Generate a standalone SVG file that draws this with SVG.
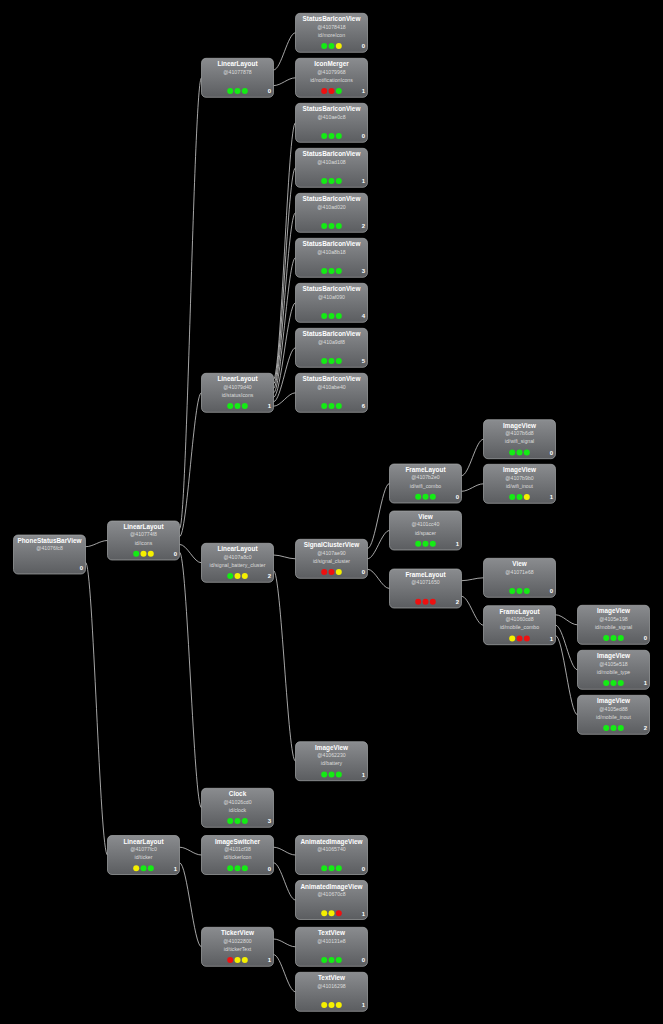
<svg xmlns="http://www.w3.org/2000/svg" width="663" height="1024" viewBox="0 0 663 1024">
<style>
.box{fill:url(#g);stroke:#a4a6a8;stroke-width:0.7}
.t{font-family:"Liberation Sans",Arial,sans-serif;font-weight:bold;font-size:6.4px;fill:#fff;text-anchor:middle}
.a{font-family:"Liberation Sans",Arial,sans-serif;font-size:5.2px;fill:#dcdcdc;text-anchor:middle}
.i{font-family:"Liberation Sans",Arial,sans-serif;font-weight:bold;font-size:6px;fill:#fff;text-anchor:end}
.G{fill:#14ec14}.Y{fill:#f5f000}.R{fill:#ee1010}
#links path{fill:none;stroke:#cfcfcf;stroke-width:0.8}
</style>
<defs>
<linearGradient id="g" x1="0" y1="0" x2="0" y2="1">
<stop offset="0" stop-color="#8a8c8f"/>
<stop offset="1" stop-color="#5b5d60"/>
</linearGradient>
</defs>
<rect width="663" height="1024" fill="#000"/>
<g id="links">
<path d="M85.5,546.7 C93.2,546.7 99.8,540.5 107.5,540.5"/>
<path d="M85.5,562.3 C93.2,562.3 99.8,855 107.5,855"/>
<path d="M179.5,528.8 C187.2,528.8 193.8,77.8 201.5,77.8"/>
<path d="M179.5,536.6 C187.2,536.6 193.8,392.8 201.5,392.8"/>
<path d="M179.5,544.4 C187.2,544.4 193.8,562.8 201.5,562.8"/>
<path d="M179.5,552.2 C187.2,552.2 193.8,807.8 201.5,807.8"/>
<path d="M179.5,847.2 C187.2,847.2 193.8,855 201.5,855"/>
<path d="M179.5,862.8 C187.2,862.8 193.8,946.8 201.5,946.8"/>
<path d="M273.5,70 C281.2,70 287.8,32.8 295.5,32.8"/>
<path d="M273.5,85.6 C281.2,85.6 287.8,77.8 295.5,77.8"/>
<path d="M273.5,379.4 C281.2,379.4 287.8,122.8 295.5,122.8"/>
<path d="M273.5,383.9 C281.2,383.9 287.8,167.8 295.5,167.8"/>
<path d="M273.5,388.3 C281.2,388.3 287.8,212.8 295.5,212.8"/>
<path d="M273.5,392.8 C281.2,392.8 287.8,257.8 295.5,257.8"/>
<path d="M273.5,397.3 C281.2,397.3 287.8,302.8 295.5,302.8"/>
<path d="M273.5,401.7 C281.2,401.7 287.8,347.8 295.5,347.8"/>
<path d="M273.5,406.2 C281.2,406.2 287.8,392.8 295.5,392.8"/>
<path d="M273.5,555 C281.2,555 287.8,558.8 295.5,558.8"/>
<path d="M273.5,570.6 C281.2,570.6 287.8,761.2 295.5,761.2"/>
<path d="M367.5,548.4 C375.2,548.4 381.8,483.5 389.5,483.5"/>
<path d="M367.5,558.8 C375.2,558.8 381.8,530.5 389.5,530.5"/>
<path d="M367.5,569.2 C375.2,569.2 381.8,588.5 389.5,588.5"/>
<path d="M461.5,475.7 C469.2,475.7 475.8,439.2 483.5,439.2"/>
<path d="M461.5,491.3 C469.2,491.3 475.8,483.8 483.5,483.8"/>
<path d="M461.5,580.7 C469.2,580.7 475.8,577.8 483.5,577.8"/>
<path d="M461.5,596.3 C469.2,596.3 475.8,625.2 483.5,625.2"/>
<path d="M555.5,614.8 C563.2,614.8 569.8,624.8 577.5,624.8"/>
<path d="M555.5,625.2 C563.2,625.2 569.8,669.8 577.5,669.8"/>
<path d="M555.5,635.6 C563.2,635.6 569.8,714.8 577.5,714.8"/>
<path d="M273.5,847.2 C281.2,847.2 287.8,855 295.5,855"/>
<path d="M273.5,862.8 C281.2,862.8 287.8,900 295.5,900"/>
<path d="M273.5,939 C281.2,939 287.8,946.8 295.5,946.8"/>
<path d="M273.5,954.6 C281.2,954.6 287.8,991.8 295.5,991.8"/>
</g>

<g id="root" transform="translate(13.5,535)"><rect class="box" width="72" height="39" rx="4.5"/><text class="t" x="36" y="8.2">PhoneStatusBarView</text><text class="a" x="36" y="15.3">@41076fc8</text><text class="i" x="69.5" y="35">0</text></g>

<g id="ll_icons" transform="translate(107.5,521)"><rect class="box" width="72" height="39" rx="4.5"/><text class="t" x="36" y="8.2">LinearLayout</text><text class="a" x="36" y="15.3">@410774f8</text><text class="a" x="36" y="23.6">id/icons</text><circle class="G" cx="28.7" cy="32.7" r="3"/><circle class="Y" cx="36" cy="32.7" r="3"/><circle class="Y" cx="43.3" cy="32.7" r="3"/><text class="i" x="69.5" y="35">0</text></g>

<g id="ll_ticker" transform="translate(107.5,835.5)"><rect class="box" width="72" height="39" rx="4.5"/><text class="t" x="36" y="8.2">LinearLayout</text><text class="a" x="36" y="15.3">@41077fc0</text><text class="a" x="36" y="23.6">id/ticker</text><circle class="Y" cx="28.7" cy="32.7" r="3"/><circle class="G" cx="36" cy="32.7" r="3"/><circle class="G" cx="43.3" cy="32.7" r="3"/><text class="i" x="69.5" y="35">1</text></g>

<g id="ll_878" transform="translate(201.5,58.3)"><rect class="box" width="72" height="39" rx="4.5"/><text class="t" x="36" y="8.2">LinearLayout</text><text class="a" x="36" y="15.3">@41077878</text><circle class="G" cx="28.7" cy="32.7" r="3"/><circle class="G" cx="36" cy="32.7" r="3"/><circle class="G" cx="43.3" cy="32.7" r="3"/><text class="i" x="69.5" y="35">0</text></g>

<g id="ll_status" transform="translate(201.5,373.3)"><rect class="box" width="72" height="39" rx="4.5"/><text class="t" x="36" y="8.2">LinearLayout</text><text class="a" x="36" y="15.3">@41079d40</text><text class="a" x="36" y="23.6">id/statusIcons</text><circle class="G" cx="28.7" cy="32.7" r="3"/><circle class="G" cx="36" cy="32.7" r="3"/><circle class="G" cx="43.3" cy="32.7" r="3"/><text class="i" x="69.5" y="35">1</text></g>

<g id="ll_sbc" transform="translate(201.5,543.3)"><rect class="box" width="72" height="39" rx="4.5"/><text class="t" x="36" y="8.2">LinearLayout</text><text class="a" x="36" y="15.3">@4107a8c0</text><text class="a" x="36" y="23.6">id/signal_battery_cluster</text><circle class="G" cx="28.7" cy="32.7" r="3"/><circle class="Y" cx="36" cy="32.7" r="3"/><circle class="Y" cx="43.3" cy="32.7" r="3"/><text class="i" x="69.5" y="35">2</text></g>

<g id="clock" transform="translate(201.5,788.3)"><rect class="box" width="72" height="39" rx="4.5"/><text class="t" x="36" y="8.2">Clock</text><text class="a" x="36" y="15.3">@41026cd0</text><text class="a" x="36" y="23.6">id/clock</text><circle class="G" cx="28.7" cy="32.7" r="3"/><circle class="G" cx="36" cy="32.7" r="3"/><circle class="G" cx="43.3" cy="32.7" r="3"/><text class="i" x="69.5" y="35">3</text></g>

<g id="imgswitcher" transform="translate(201.5,835.5)"><rect class="box" width="72" height="39" rx="4.5"/><text class="t" x="36" y="8.2">ImageSwitcher</text><text class="a" x="36" y="15.3">@4101cf38</text><text class="a" x="36" y="23.6">id/tickerIcon</text><circle class="G" cx="28.7" cy="32.7" r="3"/><circle class="G" cx="36" cy="32.7" r="3"/><circle class="G" cx="43.3" cy="32.7" r="3"/><text class="i" x="69.5" y="35">0</text></g>

<g id="tickerview" transform="translate(201.5,927.3)"><rect class="box" width="72" height="39" rx="4.5"/><text class="t" x="36" y="8.2">TickerView</text><text class="a" x="36" y="15.3">@41022800</text><text class="a" x="36" y="23.6">id/tickerText</text><circle class="R" cx="28.7" cy="32.7" r="3"/><circle class="Y" cx="36" cy="32.7" r="3"/><circle class="Y" cx="43.3" cy="32.7" r="3"/><text class="i" x="69.5" y="35">1</text></g>

<g id="sb_more" transform="translate(295.5,13.3)"><rect class="box" width="72" height="39" rx="4.5"/><text class="t" x="36" y="8.2">StatusBarIconView</text><text class="a" x="36" y="15.3">@41078418</text><text class="a" x="36" y="23.6">id/moreIcon</text><circle class="G" cx="28.7" cy="32.7" r="3"/><circle class="G" cx="36" cy="32.7" r="3"/><circle class="Y" cx="43.3" cy="32.7" r="3"/><text class="i" x="69.5" y="35">0</text></g>

<g id="iconmerger" transform="translate(295.5,58.3)"><rect class="box" width="72" height="39" rx="4.5"/><text class="t" x="36" y="8.2">IconMerger</text><text class="a" x="36" y="15.3">@41079968</text><text class="a" x="36" y="23.6">id/notificationIcons</text><circle class="R" cx="28.7" cy="32.7" r="3"/><circle class="R" cx="36" cy="32.7" r="3"/><circle class="G" cx="43.3" cy="32.7" r="3"/><text class="i" x="69.5" y="35">1</text></g>

<g id="sb0" transform="translate(295.5,103.3)"><rect class="box" width="72" height="39" rx="4.5"/><text class="t" x="36" y="8.2">StatusBarIconView</text><text class="a" x="36" y="15.3">@410ae0c8</text><circle class="G" cx="28.7" cy="32.7" r="3"/><circle class="G" cx="36" cy="32.7" r="3"/><circle class="G" cx="43.3" cy="32.7" r="3"/><text class="i" x="69.5" y="35">0</text></g>

<g id="sb1" transform="translate(295.5,148.3)"><rect class="box" width="72" height="39" rx="4.5"/><text class="t" x="36" y="8.2">StatusBarIconView</text><text class="a" x="36" y="15.3">@410ad108</text><circle class="G" cx="28.7" cy="32.7" r="3"/><circle class="G" cx="36" cy="32.7" r="3"/><circle class="G" cx="43.3" cy="32.7" r="3"/><text class="i" x="69.5" y="35">1</text></g>

<g id="sb2" transform="translate(295.5,193.3)"><rect class="box" width="72" height="39" rx="4.5"/><text class="t" x="36" y="8.2">StatusBarIconView</text><text class="a" x="36" y="15.3">@410ad020</text><circle class="G" cx="28.7" cy="32.7" r="3"/><circle class="G" cx="36" cy="32.7" r="3"/><circle class="G" cx="43.3" cy="32.7" r="3"/><text class="i" x="69.5" y="35">2</text></g>

<g id="sb3" transform="translate(295.5,238.3)"><rect class="box" width="72" height="39" rx="4.5"/><text class="t" x="36" y="8.2">StatusBarIconView</text><text class="a" x="36" y="15.3">@410a8b18</text><circle class="G" cx="28.7" cy="32.7" r="3"/><circle class="G" cx="36" cy="32.7" r="3"/><circle class="G" cx="43.3" cy="32.7" r="3"/><text class="i" x="69.5" y="35">3</text></g>

<g id="sb4" transform="translate(295.5,283.3)"><rect class="box" width="72" height="39" rx="4.5"/><text class="t" x="36" y="8.2">StatusBarIconView</text><text class="a" x="36" y="15.3">@410af090</text><circle class="G" cx="28.7" cy="32.7" r="3"/><circle class="G" cx="36" cy="32.7" r="3"/><circle class="G" cx="43.3" cy="32.7" r="3"/><text class="i" x="69.5" y="35">4</text></g>

<g id="sb5" transform="translate(295.5,328.3)"><rect class="box" width="72" height="39" rx="4.5"/><text class="t" x="36" y="8.2">StatusBarIconView</text><text class="a" x="36" y="15.3">@410a9df8</text><circle class="G" cx="28.7" cy="32.7" r="3"/><circle class="G" cx="36" cy="32.7" r="3"/><circle class="G" cx="43.3" cy="32.7" r="3"/><text class="i" x="69.5" y="35">5</text></g>

<g id="sb6" transform="translate(295.5,373.3)"><rect class="box" width="72" height="39" rx="4.5"/><text class="t" x="36" y="8.2">StatusBarIconView</text><text class="a" x="36" y="15.3">@410abe40</text><circle class="G" cx="28.7" cy="32.7" r="3"/><circle class="G" cx="36" cy="32.7" r="3"/><circle class="G" cx="43.3" cy="32.7" r="3"/><text class="i" x="69.5" y="35">6</text></g>

<g id="signalcluster" transform="translate(295.5,539.3)"><rect class="box" width="72" height="39" rx="4.5"/><text class="t" x="36" y="8.2">SignalClusterView</text><text class="a" x="36" y="15.3">@4107ae90</text><text class="a" x="36" y="23.6">id/signal_cluster</text><circle class="R" cx="28.7" cy="32.7" r="3"/><circle class="R" cx="36" cy="32.7" r="3"/><circle class="Y" cx="43.3" cy="32.7" r="3"/><text class="i" x="69.5" y="35">0</text></g>

<g id="battery" transform="translate(295.5,741.7)"><rect class="box" width="72" height="39" rx="4.5"/><text class="t" x="36" y="8.2">ImageView</text><text class="a" x="36" y="15.3">@41062230</text><text class="a" x="36" y="23.6">id/battery</text><circle class="G" cx="28.7" cy="32.7" r="3"/><circle class="G" cx="36" cy="32.7" r="3"/><circle class="G" cx="43.3" cy="32.7" r="3"/><text class="i" x="69.5" y="35">1</text></g>

<g id="aiv0" transform="translate(295.5,835.5)"><rect class="box" width="72" height="39" rx="4.5"/><text class="t" x="36" y="8.2">AnimatedImageView</text><text class="a" x="36" y="15.3">@41065740</text><circle class="G" cx="28.7" cy="32.7" r="3"/><circle class="G" cx="36" cy="32.7" r="3"/><circle class="G" cx="43.3" cy="32.7" r="3"/><text class="i" x="69.5" y="35">0</text></g>

<g id="aiv1" transform="translate(295.5,880.5)"><rect class="box" width="72" height="39" rx="4.5"/><text class="t" x="36" y="8.2">AnimatedImageView</text><text class="a" x="36" y="15.3">@410670c8</text><circle class="Y" cx="28.7" cy="32.7" r="3"/><circle class="Y" cx="36" cy="32.7" r="3"/><circle class="R" cx="43.3" cy="32.7" r="3"/><text class="i" x="69.5" y="35">1</text></g>

<g id="tv0" transform="translate(295.5,927.3)"><rect class="box" width="72" height="39" rx="4.5"/><text class="t" x="36" y="8.2">TextView</text><text class="a" x="36" y="15.3">@410131e8</text><circle class="G" cx="28.7" cy="32.7" r="3"/><circle class="G" cx="36" cy="32.7" r="3"/><circle class="G" cx="43.3" cy="32.7" r="3"/><text class="i" x="69.5" y="35">0</text></g>

<g id="tv1" transform="translate(295.5,972.3)"><rect class="box" width="72" height="39" rx="4.5"/><text class="t" x="36" y="8.2">TextView</text><text class="a" x="36" y="15.3">@41016298</text><circle class="Y" cx="28.7" cy="32.7" r="3"/><circle class="Y" cx="36" cy="32.7" r="3"/><circle class="Y" cx="43.3" cy="32.7" r="3"/><text class="i" x="69.5" y="35">1</text></g>

<g id="wifi_combo" transform="translate(389.5,464)"><rect class="box" width="72" height="39" rx="4.5"/><text class="t" x="36" y="8.2">FrameLayout</text><text class="a" x="36" y="15.3">@4107b2e0</text><text class="a" x="36" y="23.6">id/wifi_combo</text><circle class="G" cx="28.7" cy="32.7" r="3"/><circle class="G" cx="36" cy="32.7" r="3"/><circle class="G" cx="43.3" cy="32.7" r="3"/><text class="i" x="69.5" y="35">0</text></g>

<g id="spacer" transform="translate(389.5,511)"><rect class="box" width="72" height="39" rx="4.5"/><text class="t" x="36" y="8.2">View</text><text class="a" x="36" y="15.3">@4101cc40</text><text class="a" x="36" y="23.6">id/spacer</text><circle class="G" cx="28.7" cy="32.7" r="3"/><circle class="G" cx="36" cy="32.7" r="3"/><circle class="G" cx="43.3" cy="32.7" r="3"/><text class="i" x="69.5" y="35">1</text></g>

<g id="fl_650" transform="translate(389.5,569)"><rect class="box" width="72" height="39" rx="4.5"/><text class="t" x="36" y="8.2">FrameLayout</text><text class="a" x="36" y="15.3">@41071650</text><circle class="R" cx="28.7" cy="32.7" r="3"/><circle class="R" cx="36" cy="32.7" r="3"/><circle class="R" cx="43.3" cy="32.7" r="3"/><text class="i" x="69.5" y="35">2</text></g>

<g id="wifi_signal" transform="translate(483.5,419.7)"><rect class="box" width="72" height="39" rx="4.5"/><text class="t" x="36" y="8.2">ImageView</text><text class="a" x="36" y="15.3">@4107b6d8</text><text class="a" x="36" y="23.6">id/wifi_signal</text><circle class="G" cx="28.7" cy="32.7" r="3"/><circle class="G" cx="36" cy="32.7" r="3"/><circle class="G" cx="43.3" cy="32.7" r="3"/><text class="i" x="69.5" y="35">0</text></g>

<g id="wifi_inout" transform="translate(483.5,464.3)"><rect class="box" width="72" height="39" rx="4.5"/><text class="t" x="36" y="8.2">ImageView</text><text class="a" x="36" y="15.3">@4107b9b0</text><text class="a" x="36" y="23.6">id/wifi_inout</text><circle class="G" cx="28.7" cy="32.7" r="3"/><circle class="G" cx="36" cy="32.7" r="3"/><circle class="Y" cx="43.3" cy="32.7" r="3"/><text class="i" x="69.5" y="35">1</text></g>

<g id="view_e68" transform="translate(483.5,558.3)"><rect class="box" width="72" height="39" rx="4.5"/><text class="t" x="36" y="8.2">View</text><text class="a" x="36" y="15.3">@41071e68</text><circle class="G" cx="28.7" cy="32.7" r="3"/><circle class="G" cx="36" cy="32.7" r="3"/><circle class="G" cx="43.3" cy="32.7" r="3"/><text class="i" x="69.5" y="35">0</text></g>

<g id="mobile_combo" transform="translate(483.5,605.7)"><rect class="box" width="72" height="39" rx="4.5"/><text class="t" x="36" y="8.2">FrameLayout</text><text class="a" x="36" y="15.3">@41060cd8</text><text class="a" x="36" y="23.6">id/mobile_combo</text><circle class="Y" cx="28.7" cy="32.7" r="3"/><circle class="R" cx="36" cy="32.7" r="3"/><circle class="R" cx="43.3" cy="32.7" r="3"/><text class="i" x="69.5" y="35">1</text></g>

<g id="mobile_signal" transform="translate(577.5,605.3)"><rect class="box" width="72" height="39" rx="4.5"/><text class="t" x="36" y="8.2">ImageView</text><text class="a" x="36" y="15.3">@4105e198</text><text class="a" x="36" y="23.6">id/mobile_signal</text><circle class="G" cx="28.7" cy="32.7" r="3"/><circle class="G" cx="36" cy="32.7" r="3"/><circle class="G" cx="43.3" cy="32.7" r="3"/><text class="i" x="69.5" y="35">0</text></g>

<g id="mobile_type" transform="translate(577.5,650.3)"><rect class="box" width="72" height="39" rx="4.5"/><text class="t" x="36" y="8.2">ImageView</text><text class="a" x="36" y="15.3">@4105e518</text><text class="a" x="36" y="23.6">id/mobile_type</text><circle class="G" cx="28.7" cy="32.7" r="3"/><circle class="G" cx="36" cy="32.7" r="3"/><circle class="G" cx="43.3" cy="32.7" r="3"/><text class="i" x="69.5" y="35">1</text></g>

<g id="mobile_inout" transform="translate(577.5,695.3)"><rect class="box" width="72" height="39" rx="4.5"/><text class="t" x="36" y="8.2">ImageView</text><text class="a" x="36" y="15.3">@4105ed88</text><text class="a" x="36" y="23.6">id/mobile_inout</text><circle class="G" cx="28.7" cy="32.7" r="3"/><circle class="G" cx="36" cy="32.7" r="3"/><circle class="G" cx="43.3" cy="32.7" r="3"/><text class="i" x="69.5" y="35">2</text></g>
</svg>
